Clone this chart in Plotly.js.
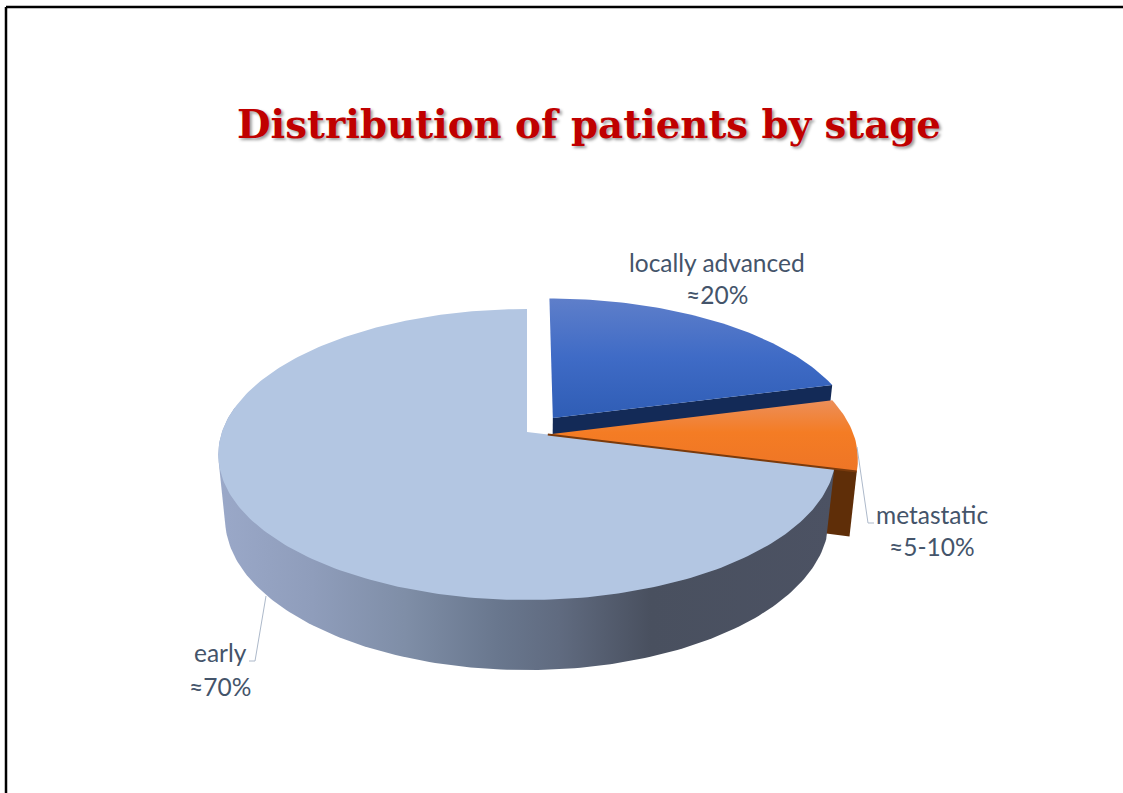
<!DOCTYPE html>
<html>
<head>
<meta charset="utf-8">
<script src="https://cdn.plot.ly/plotly-3.0.1.min.js"></script>
<style>html,body{margin:0;padding:0;background:#fff}#chart{width:1123px;height:793px}</style>
</head>
<body>
<div id="chart"></div>
<script>
// ---- data ----
const categories = ['locally advanced', 'metastatic', 'early'];
const shares = [21, 8, 71];
const shareLabels = ['≈20%', '≈5-10%', '≈70%'];
const chartTitle = 'Distribution of patients by stage';

// ---- styling / projection ----
const VIEW = {cx: 527, cy: 432, r: 305, k: 142, p: 0.1546, dropY: 63.4, scaleX: 0.978, scaleY: 1.04};
const pull = {'locally advanced': [0.086, 0.10], 'metastatic': [0.068, -0.018], 'early': [0, 0]};
const topStyle = {
  'locally advanced': {fillgradient: {type: 'vertical', start: 297, stop: 418, colorscale: [[0, '#5f7fca'], [0.5, '#3f6bc6'], [1, '#2f5db5']]}},
  'metastatic': {fillgradient: {type: 'vertical', start: 400, stop: 472, colorscale: [[0, '#ec8f5a'], [0.45, '#f47c24'], [1, '#ee7526']]}},
  'early': {fillcolor: '#b3c6e2'}
};
const wallColor = {'locally advanced': '#132a57', 'metastatic': '#5f2e08'};
const edgeColor = '#7a3a0c';
const earlyWallGradient = {type: 'horizontal', start: 220, stop: 835, colorscale: [
  [0, '#9aa8c8'], [0.15, '#8f9dbb'], [0.3, '#7f8ea7'], [0.45, '#69778e'], [0.55, '#606b80'],
  [0.7, '#49505f'], [1, '#4c5263']]};
const labelPlace = {
  'locally advanced': [717, 262, 294],
  'metastatic': [932, 514, 546],
  'early': [220, 652, 686]
};
const leaders = [
  [[857, 447], [868, 523], [874, 523]],
  [[266, 596], [255, 661], [249, 661]]
];
const labelColor = '#44546a';
const labelFont = 'Lato, "Open Sans", sans-serif';

// ---- pie geometry through the axes ----
function project(theta, off, lower) {
  const a = theta * Math.PI / 180;
  return projectPlane(Math.cos(a) + off[0], Math.sin(a) + off[1], lower);
}
function projectPlane(X, Y, lower) {
  const w = 1 + VIEW.p * Y;
  const sx = lower ? VIEW.scaleX : 1, sy = lower ? VIEW.scaleY : 1, d = lower ? VIEW.dropY : 0;
  return [VIEW.cx + sx * VIEW.r * X / w, VIEW.cy + d - sy * VIEW.k * Y / w];
}
function arc(t0, t1, off, lower) {
  const n = Math.max(2, Math.ceil(Math.abs(t1 - t0)));
  const pts = [];
  for (let i = 0; i <= n; i++) pts.push(project(t0 + (t1 - t0) * i / n, off, lower));
  return pts;
}
function hull(pts) {
  const s = pts.slice().sort((a, b) => a[0] - b[0] || a[1] - b[1]);
  const cross = (o, a, b) => (a[0] - o[0]) * (b[1] - o[1]) - (a[1] - o[1]) * (b[0] - o[0]);
  const half = list => {
    const h = [];
    list.forEach(p => {
      while (h.length >= 2 && cross(h[h.length - 2], h[h.length - 1], p) <= 0) h.pop();
      h.push(p);
    });
    h.pop();
    return h;
  };
  const out = half(s).concat(half(s.slice().reverse()));
  out.push(out[0]);
  return out;
}
function poly(pts, name, style) {
  return Object.assign({
    type: 'scatter', mode: 'lines', name: name, hoverinfo: 'name', showlegend: false,
    x: pts.map(p => p[0]), y: pts.map(p => p[1]), fill: 'toself',
    line: {width: 0, color: 'rgba(0,0,0,0)'}
  }, style);
}
const total = shares.reduce((a, b) => a + b, 0);
let start = 90;
const span = {};
categories.forEach((c, i) => {
  const end = start - shares[i] / total * 360;
  span[c] = [start, end];
  start = end;
});
function tip(c, lower) { return projectPlane(pull[c][0], pull[c][1], lower); }
function wedge(c) {
  return [tip(c, false)].concat(arc(span[c][0], span[c][1], pull[c], false), [tip(c, false)]);
}
function radialWall(c, theta) {
  const o = pull[c];
  return [tip(c, false), project(theta, o, false), project(theta, o, true), tip(c, true), tip(c, false)];
}
const earlyWall = hull(arc(span['early'][0], -190, pull['early'], false)
  .concat(arc(-190, span['early'][0], pull['early'], true)));
const metaEdge = [tip('metastatic', false), project(span['metastatic'][1], pull['metastatic'], false)];

const traces = [
  poly(radialWall('locally advanced', span['locally advanced'][1]), 'locally advanced', {fillcolor: wallColor['locally advanced']}),
  poly(radialWall('metastatic', span['metastatic'][1]), 'metastatic', {fillcolor: wallColor['metastatic']}),
  poly(earlyWall, 'early', {fillgradient: earlyWallGradient}),
  poly(wedge('early'), 'early', topStyle['early']),
  poly(wedge('metastatic'), 'metastatic', topStyle['metastatic']),
  poly(metaEdge, 'metastatic', {fill: 'none', line: {color: edgeColor, width: 2}}),
  poly(wedge('locally advanced'), 'locally advanced', topStyle['locally advanced'])
];

const annotations = categories.map((c, i) => {
  const pl = labelPlace[c];
  const font = {family: labelFont, size: 24.5, color: labelColor};
  return [
    {x: pl[0], y: pl[1], text: c, showarrow: false, xanchor: 'center', yanchor: 'middle', font: font},
    {x: pl[0], y: pl[2], text: shareLabels[i], showarrow: false, xanchor: 'center', yanchor: 'middle', font: font}
  ];
}).flat();

const shapes = leaders.map(l => ({
  type: 'path', xref: 'x', yref: 'y',
  path: 'M' + l.map(p => p[0] + ',' + p[1]).join('L'),
  line: {color: '#adb9ca', width: 1}
}));
// slide frame: top and left rule only
shapes.push({type: 'line', xref: 'x', yref: 'y', x0: 6, y0: 7, x1: 1123, y1: 7, line: {color: '#000', width: 2.5}});
shapes.push({type: 'line', xref: 'x', yref: 'y', x0: 6, y0: 7, x1: 6, y1: 793, line: {color: '#000', width: 2.5}});

const layout = {
  width: 1123, height: 793, margin: {l: 0, r: 0, t: 0, b: 0},
  paper_bgcolor: '#fff', plot_bgcolor: '#fff', showlegend: false,
  title: {
    text: '<b>' + chartTitle + '</b>', x: 589 / 1123, xanchor: 'center', y: 1 - 124 / 793, yanchor: 'middle',
    font: {family: '"DejaVu Serif", serif', size: 38.7, color: '#c00000', shadow: '2px 2px 3px rgba(0,0,0,0.4)'}
  },
  xaxis: {range: [0, 1123], visible: false, fixedrange: true},
  yaxis: {range: [793, 0], visible: false, fixedrange: true},
  annotations: annotations, shapes: shapes
};
Plotly.newPlot('chart', traces, layout, {displayModeBar: false});
</script>
</body>
</html>
